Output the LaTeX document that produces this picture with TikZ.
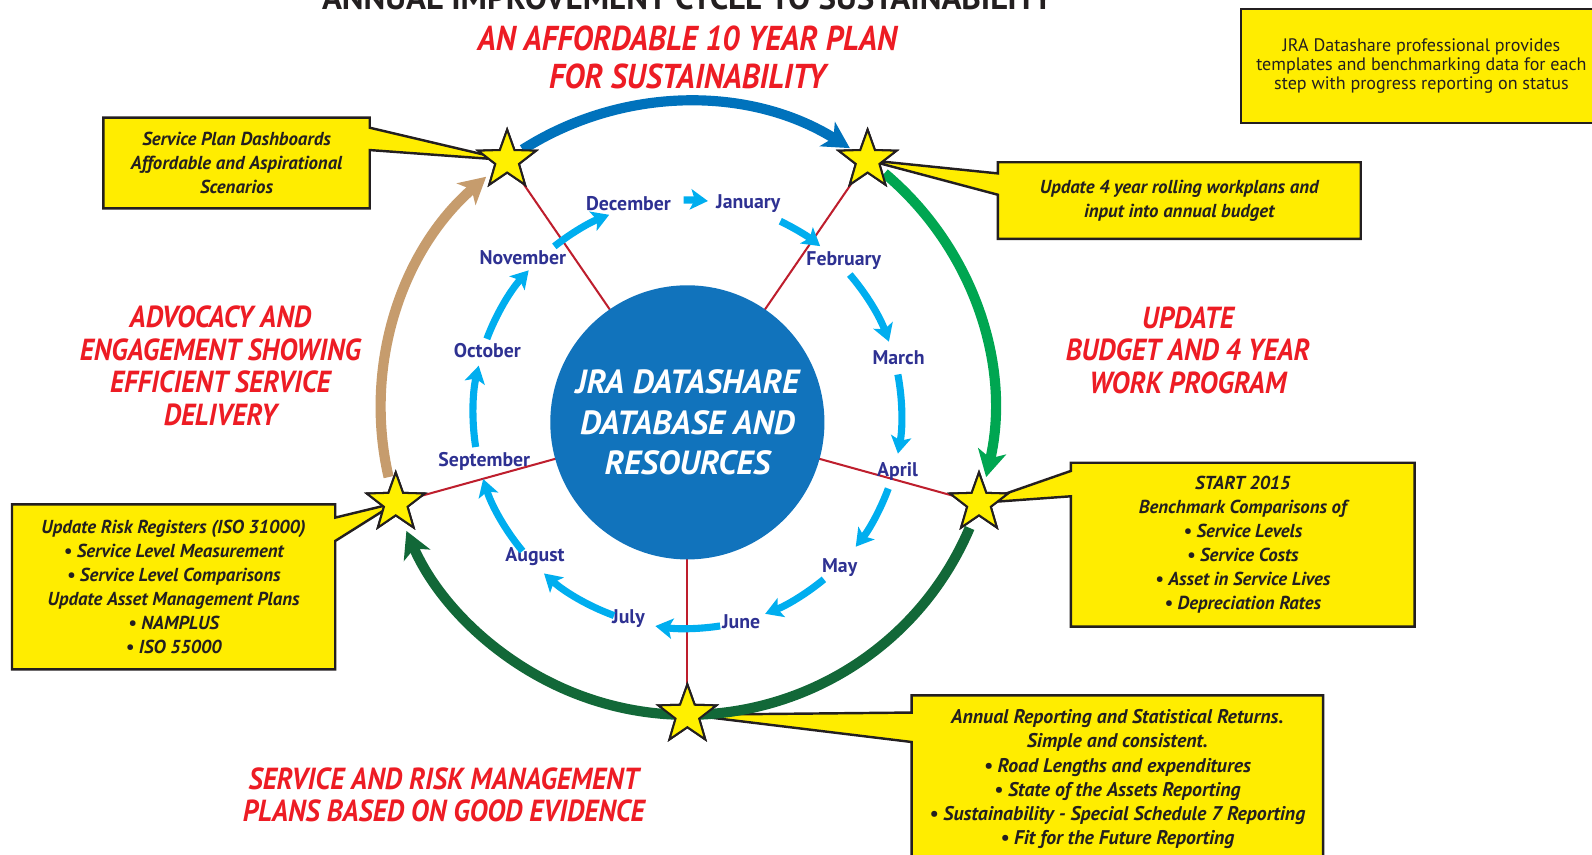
\documentclass[tikz,border=0pt]{standalone}
\usepackage{fontspec}
\setmainfont{PT Sans}
\newfontfamily\condfont{PT Sans}[FakeStretch=0.91]
\newfontfamily\boxfont{PT Sans}
\usetikzlibrary{arrows.meta,shapes.geometric,calc}
\definecolor{boxyellow}{RGB}{255,237,0}
\definecolor{staryellow}{RGB}{255,240,0}
\definecolor{boxblack}{RGB}{35,31,32}
\definecolor{titlered}{RGB}{237,28,36}
\definecolor{monthblue}{RGB}{46,49,146}
\definecolor{cyanarrow}{RGB}{0,174,239}
\definecolor{diskblue}{RGB}{17,115,188}
\definecolor{arcblue}{RGB}{0,114,188}
\definecolor{arcgreen}{RGB}{0,166,81}
\definecolor{arcdark}{RGB}{18,104,56}
\definecolor{arctan}{RGB}{198,156,109}
\definecolor{linered}{RGB}{190,30,45}
\pgfdeclarelayer{back}
\pgfsetlayers{back,main}
\begin{document}
\begin{tikzpicture}[x=1pt,y=-1pt,
  every node/.style={inner sep=0pt},
  callout/.style={fill=boxyellow, draw=boxblack, line width=2.4pt, line join=miter},
  boxtext/.style={align=center, text=boxblack, font=\boxfont\bfseries\itshape\fontsize{18.5}{23.6}\selectfont},
  bottext/.style={align=center, text=boxblack, font=\boxfont\bfseries\itshape\fontsize{19.5}{23.8}\selectfont},
  starnode/.style={star, star points=5, star point ratio=2.45, minimum size=60pt, fill=staryellow, draw=boxblack, line width=2pt},
  redtitle/.style={align=center, text=titlered, font=\condfont\bfseries\itshape\fontsize{30}{32}\selectfont},
  month/.style={text=monthblue, font=\bfseries\fontsize{19.5}{21}\selectfont},
  montharrow/.style={draw=cyanarrow, line width=7pt, -{Stealth[length=17pt,width=20pt,inset=4pt]}},
  redline/.style={draw=linered, line width=2pt},
  bigarrow/.style={line width=10pt, -{Stealth[length=26pt,width=28pt,inset=7pt]}},
]
\useasboundingbox (0,0) rectangle (1568,842);
\coordinate (O) at (677,402);
\coordinate (M) at (677,408);

% title
\node[anchor=base, text=boxblack, font=\bfseries\fontsize{32.5}{34}\selectfont] (title) at (677,9) {ANNUAL IMPROVEMENT CYCLE TO SUSTAINABILITY};
\node[redtitle, font=\condfont\bfseries\itshape\fontsize{34}{37}\selectfont] (maintitle) at (677,56.5) {AN AFFORDABLE 10 YEAR PLAN\\FOR SUSTAINABILITY};

% info box
\node[draw=boxblack, fill=boxyellow, line width=2.4pt, minimum width=356pt, minimum height=112pt, align=center, text=boxblack, font=\fontsize{17.8}{19}\selectfont] (info) at (1400,65) {JRA Datashare professional provides\\templates and benchmarking data for each\\step with progress reporting on status};

% central disk
\node[circle, fill=diskblue, minimum size=270pt, align=center, text=white, font=\boxfont\bfseries\itshape\fontsize{33}{39.5}\selectfont] (disk) at (677,416) {JRA DATASHARE\\DATABASE AND\\RESOURCES};

% stars
\node[starnode] (s1) at ($(O)+(-126:302)$) {};
\node[starnode] (s2) at ($(O)+(-54:302)$) {};
\node[starnode] (s3) at ($(O)+(18:302)$) {};
\node[starnode] (s4) at ($(O)+(90:302)$) {};
\node[starnode] (s5) at ($(O)+(162:302)$) {};

% red lines
\begin{pgfonlayer}{back}
\foreach \s in {s1,s2,s3,s4,s5}{\draw[redline] (disk.center) -- (\s.center);}
\end{pgfonlayer}

% section titles
\node[redtitle] (advocacy) at (217,360.5) {ADVOCACY AND\\ENGAGEMENT SHOWING\\EFFICIENT SERVICE\\DELIVERY};
\node[redtitle] (update) at (1170,345) {UPDATE\\BUDGET AND 4 YEAR\\WORK PROGRAM};
\node[redtitle] (service) at (437,783) {SERVICE AND RISK MANAGEMENT\\PLANS BASED ON GOOD EVIDENCE};

% callout boxes
\node[boxtext, minimum width=262pt, minimum height=89pt] (tl) at (233,160.5) {Service Plan Dashboards\\Affordable and Aspirational\\Scenarios};
\node[boxtext, minimum width=357pt, minimum height=75pt] (tr) at (1161.5,197.5) {Update 4 year rolling workplans and\\input into annual budget};
\node[boxtext, minimum width=338pt, minimum height=161pt] (rt) at (1224,536.5) {START 2015\\Benchmark Comparisons of\\\textbullet\ Service Levels\\\textbullet\ Service Costs\\\textbullet\ Asset in Service Lives\\\textbullet\ Depreciation Rates};
\node[boxtext, minimum width=318pt, minimum height=162pt] (lf) at (171,578) {Update Risk Registers (ISO 31000)\\\textbullet\ Service Level Measurement\\\textbullet\ Service Level Comparisons\\Update Asset Management Plans\\\textbullet\ NAMPLUS\\\textbullet\ ISO 55000};
\node[bottext, minimum width=405pt, minimum height=165pt] (bt) at (1100.5,767.5) {Annual Reporting and Statistical Returns.\\Simple and consistent.\\\textbullet\ Road Lengths and expenditures\\\textbullet\ State of the Assets Reporting\\\textbullet\ Sustainability - Special Schedule 7 Reporting\\\textbullet\ Fit for the Future Reporting};

\begin{pgfonlayer}{back}
\path[callout] (tl.north west) -- (tl.north east) -- ($(tl.north east)+(0,10)$) -- (s1.center) -- ($(tl.north east)+(0,32)$) -- (tl.south east) -- (tl.south west) -- cycle;
\path[callout] (tr.north west) -- ($(tr.north west)+(0,11)$) -- (s2.center) -- ($(tr.north west)+(0,32)$) -- (tr.south west) -- (tr.south east) -- (tr.north east) -- cycle;
\path[callout] (rt.north west) -- ($(rt.north west)+(0,8)$) -- (s3.center) -- ($(rt.north west)+(0,33)$) -- (rt.south west) -- (rt.south east) -- (rt.north east) -- cycle;
\path[callout] (lf.north west) -- (lf.north east) -- ($(lf.north east)+(0,13)$) -- (s5.center) -- ($(lf.north east)+(0,36)$) -- (lf.south east) -- (lf.south west) -- cycle;
\path[callout] (bt.north west) -- ($(bt.north west)+(0,17)$) -- (s4.center) -- ($(bt.north west)+(0,46)$) -- (bt.south west) -- (bt.south east) -- (bt.north east) -- cycle;
\end{pgfonlayer}

% outer arcs
\draw[bigarrow, draw=arcblue] ($(O)+(-122.5:302)$) arc[start angle=-122.5, end angle=-58, radius=302];
\draw[bigarrow, draw=arcgreen] ($(O)+(-50:302)$) arc[start angle=-50, end angle=13, radius=302];
\draw[bigarrow, draw=arcdark] ($(O)+(23:302)$) arc[start angle=23, end angle=156.4, radius=302];
\draw[bigarrow, draw=arctan] ($(O)+(-193:302)$) arc[start angle=-193, end angle=-131, radius=302];

% redraw stars on top of arcs
\foreach \s in {s1,s2,s3,s4,s5}{\node[starnode] at (\s) {};}

% months
\node[month] (dec) at (619,201) {December};
\node[month] (jan) at (737,201) {January};
\node[month] (feb) at (831,257) {February};
\node[month] (mar) at (885,352) {March};
\node[month] (apr) at (884,464) {April};
\node[month] (may) at (827,559) {May};
\node[month] (jun) at (730,612) {June};
\node[month] (jul) at (619,609) {July};
\node[month] (aug) at (527,548) {August};
\node[month] (sep) at (477,454) {September};
\node[month] (oct) at (480,345) {October};
\node[month] (nov) at (515,254) {November};

\foreach \a/\b in {-128.4/-111.4, -91/-84.5, -64.3/-51.7, -40.7/-19.8, -10.7/10.6, 20.3/38.2, 50.4/68.7, 81.2/98.6, 110/132, 140.3/162.4, 171.2/193.1, -159.4/-137.8}{
  \draw[montharrow] ($(M)+(\a:211)$) arc[start angle=\a, end angle=\b, radius=211];
}
\end{tikzpicture}
\end{document}
